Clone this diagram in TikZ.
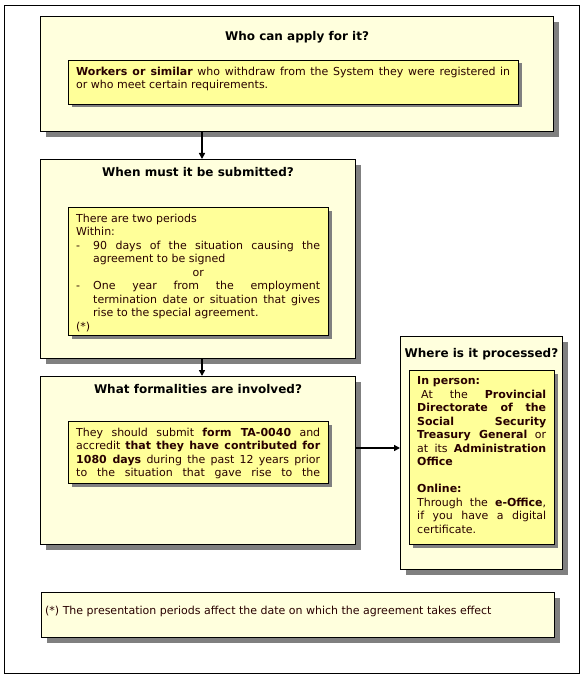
\documentclass[tikz,border=0pt]{standalone}
\usepackage{fontspec}
\setmainfont{DejaVu Sans}
\usetikzlibrary{shadows,arrows.meta}
\definecolor{boxfill}{RGB}{255,255,221}
\definecolor{innerfill}{RGB}{255,255,153}
\definecolor{shadowgray}{RGB}{128,128,128}
\definecolor{bodytext}{RGB}{40,0,0}
\tikzset{
  frame/.style={draw=black, line width=1pt, inner sep=0pt, anchor=north west},
  outerbox/.style={draw=black, line width=1pt, fill=boxfill, inner sep=0pt, anchor=north west,
    drop shadow={shadow xshift=5.5pt, shadow yshift=-5.5pt, fill=shadowgray, opacity=1}},
  innerbox/.style={draw=black, line width=1pt, fill=innerfill, inner sep=0pt, anchor=north west,
    drop shadow={shadow xshift=3pt, shadow yshift=-3pt, fill=shadowgray, opacity=1}},
  bodytxt/.style={inner sep=0pt, anchor=north west, align=justify, text=bodytext,
    font=\fontsize{11}{13.5}\selectfont,
    xshift=8pt, yshift=-6.5pt},
  titletxt/.style={font=\fontsize{12}{13.5}\selectfont\bfseries, text=black, inner sep=0pt},
  arr/.style={line width=1.5pt, -{Triangle[length=6pt,width=6pt]}},
}
\begin{document}
\begin{tikzpicture}[x=1pt,y=-1pt]
\useasboundingbox (0,0) rectangle (584,676);
\node[frame, minimum width=575pt, minimum height=668pt] (fr) at (4,5) {};

% Box 1
\node[outerbox, minimum width=513pt, minimum height=115pt] (b1) at (40,16) {};
\node[titletxt, below=15pt] (t1) at (b1.north) {Who can apply for it?};
\node[innerbox, minimum width=450pt, minimum height=44pt] (i1) at (68,60) {};
\node[bodytxt, text width=434pt] (x1) at (i1.north west)
  {\textbf{Workers or similar} who withdraw from the System they were registered in\linebreak
   or who meet certain requirements.};

% Box 2
\node[outerbox, minimum width=315pt, minimum height=199pt] (b2) at (40,159) {};
\node[titletxt, below=8pt] (t2) at (b2.north) {When must it be submitted?};
\node[innerbox, minimum width=260pt, minimum height=128pt] (i2) at (68,207) {};
\node[bodytxt, text width=244pt] (x2) at (i2.north west)
  {There are two periods\\
   Within:\par
   \hangindent=17pt\hangafter=1\noindent\makebox[17pt][l]{-}90 days of the situation causing the\linebreak
   agreement to be signed\par
   {\centering or\par}
   \hangindent=17pt\hangafter=1\noindent\makebox[17pt][l]{-}One year from the employment\linebreak
   termination date or situation that gives\linebreak
   rise to the special agreement.\par
   (*)};

% Box 3
\node[outerbox, minimum width=315pt, minimum height=168pt] (b3) at (40,376) {};
\node[titletxt, below=8pt] (t3) at (b3.north) {What formalities are involved?};
\node[innerbox, minimum width=260pt, minimum height=62pt] (i3) at (68,421) {};
\node[bodytxt, text width=244pt] (x3) at (i3.north west)
  {They should submit \textbf{form TA-0040} and\linebreak
   accredit \textbf{that they have contributed for}\linebreak
   \textbf{1080 days} during the past 12 years prior\linebreak
   to the situation that gave rise to the\parfillskip=0pt\par};

% Box 4
\node[outerbox, minimum width=162pt, minimum height=233pt] (b4) at (400,336) {};
\node[titletxt, below=12pt] (t4) at (b4.north) {Where is it processed?};
\node[innerbox, minimum width=145pt, minimum height=174pt] (i4) at (409,370) {};
\node[bodytxt, text width=129pt] (x4) at (i4.north west)
  {\textbf{In person:}\\
   \hspace*{4pt}At the \textbf{Provincial}\linebreak
   \textbf{Directorate of the}\linebreak
   \textbf{Social Security}\linebreak
   \textbf{Treasury General} or\linebreak
   at its \textbf{Administration}\linebreak
   \textbf{Office}\par\vspace{13.5pt}
   \textbf{Online:}\\
   Through the \textbf{e-Office},\linebreak
   if you have a digital\linebreak
   certificate.};

% Box 5
\node[outerbox, minimum width=513pt, minimum height=45pt] (b5) at (41,592) {};
\node[inner sep=0pt, anchor=mid west, text=bodytext, font=\fontsize{11}{13.5}\selectfont] (x5) at (45,612)
  {(*) The presentation periods affect the date on which the agreement takes effect};

% Connectors
\coordinate (ax) at (202,0);
\coordinate (ay) at (0,448);
\draw[arr] (b1.south -| ax) -- (b2.north -| ax);
\draw[arr] (b2.south -| ax) -- (b3.north -| ax);
\draw[arr] (b3.east |- ay) -- (b4.west |- ay);
\end{tikzpicture}
\end{document}
